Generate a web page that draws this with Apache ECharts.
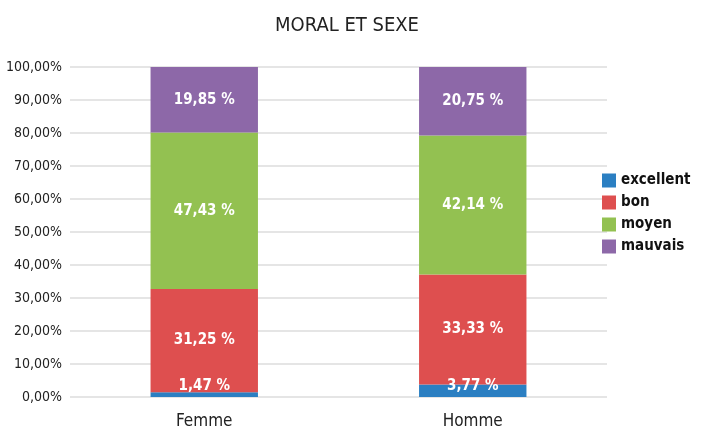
<!DOCTYPE html>
<html>
<head>
<meta charset="utf-8">
<script src="https://cdn.jsdelivr.net/npm/echarts@6/dist/echarts.min.js"></script>
<style>
  html, body { margin: 0; padding: 0; background: #fff; }
  #main { width: 723px; height: 430px; }
</style>
</head>
<body>
<div id="main"></div>
<script>
const categories = ['Femme', 'Homme']
const excellent = [1.47, 3.77]
const bon = [31.25, 33.33]
const moyen = [47.43, 42.14]
const mauvais = [19.85, 20.75]
const seriesNames = ['excellent', 'bon', 'moyen', 'mauvais']
const colors = ['#2b7fc2', '#de4f4f', '#93c151', '#8d68a8']

const font = '"Liberation Sans Narrow", "DejaVu Sans Condensed", sans-serif'
const fmt = v => v.toFixed(2).replace('.', ',')

const chart = echarts.init(document.getElementById('main'))

function makeSeries (name, data, i) {
  return {
    name: name,
    type: 'bar',
    stack: 'total',
    data: data,
    barWidth: '40%',
    itemStyle: { color: colors[i] },
    label: {
      show: true,
      position: i === 0 ? 'insideBottom' : 'inside',
      distance: 3,
      color: '#fff',
      fontFamily: font,
      fontWeight: 'bold',
      fontSize: 15,
      formatter: p => fmt(p.value) + ' %'
    }
  }
}

chart.setOption({
  backgroundColor: '#fff',
  animation: false,
  color: colors,
  title: {
    text: 'MORAL ET SEXE',
    left: 270,
    top: 11,
    textStyle: { fontFamily: font, fontWeight: 'normal', fontSize: 20, color: '#222' }
  },
  legend: {
    orient: 'vertical',
    left: 597,
    top: 168,
    itemWidth: 14,
    itemHeight: 14,
    itemGap: 7,
    icon: 'rect',
    textStyle: { fontFamily: font, fontWeight: 'bold', fontSize: 15, color: '#111' },
    data: seriesNames
  },
  grid: { left: 70, right: 116, top: 67, bottom: 33, containLabel: false },
  xAxis: {
    type: 'category',
    data: categories,
    axisLine: { show: false },
    axisTick: { show: false },
    axisLabel: { fontFamily: font, fontSize: 17, color: '#222', margin: 16 }
  },
  yAxis: {
    type: 'value',
    min: 0,
    max: 100,
    interval: 10,
    axisLine: { show: false },
    axisTick: { show: false },
    splitLine: { lineStyle: { color: '#dcdcdc', width: 1.5 } },
    axisLabel: {
      fontFamily: font,
      fontSize: 14,
      color: '#222',
      margin: 8,
      formatter: v => fmt(v) + '%'
    }
  },
  series: [
    makeSeries('excellent', excellent, 0),
    makeSeries('bon', bon, 1),
    makeSeries('moyen', moyen, 2),
    makeSeries('mauvais', mauvais, 3)
  ]
})
</script>
</body>
</html>
